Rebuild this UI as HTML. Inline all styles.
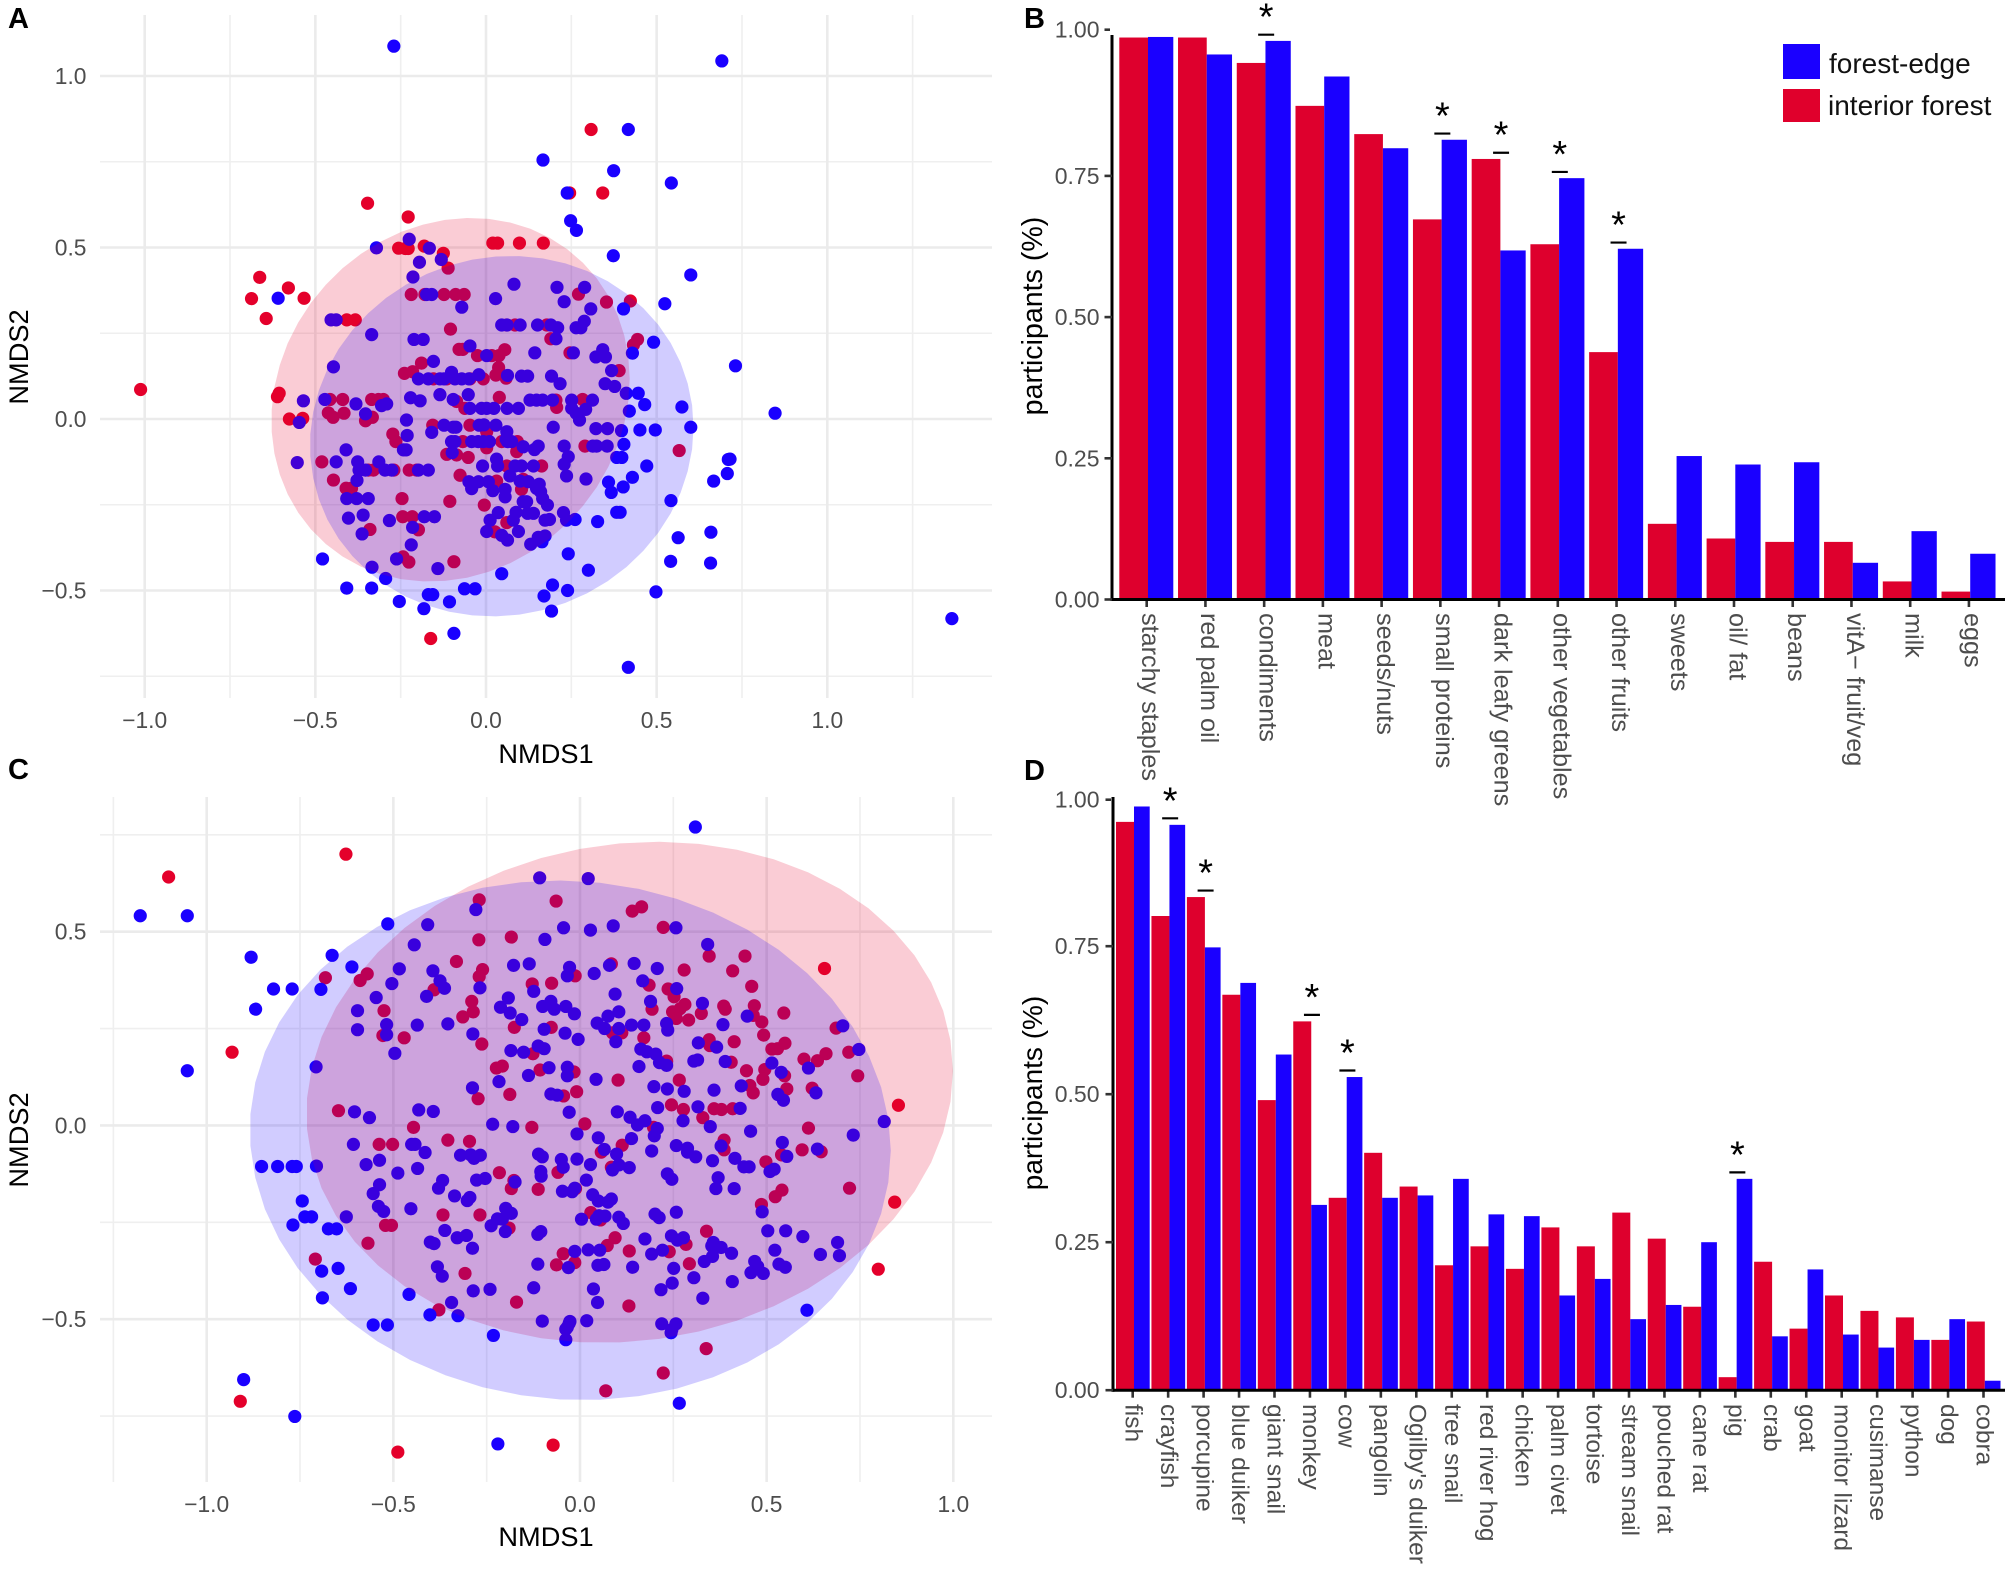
<!DOCTYPE html>
<html lang="en">
<head>
<meta charset="utf-8">
<title>Forest-edge vs interior forest diet panels</title>
<style>
html,body{margin:0;padding:0;background:#fff;}
svg{display:block;font-family:"Liberation Sans",Arial,sans-serif;}
</style>
</head>
<body>
<svg id="figure" xmlns="http://www.w3.org/2000/svg" width="2011" height="1570" viewBox="0 0 2011 1570">
  <rect x="0" y="0" width="2011" height="1570" fill="#ffffff"/>
  <g id="panelA"></g>
  <g id="panelC"></g>
  <g id="panelB"></g>
  <g id="panelD"></g>

  <text x="8" y="28" font-size="29" font-weight="bold" fill="#000">A</text>
  <text x="1024" y="28" font-size="29" font-weight="bold" fill="#000">B</text>
  <text x="8" y="779" font-size="29" font-weight="bold" fill="#000">C</text>
  <text x="1024" y="780" font-size="29" font-weight="bold" fill="#000">D</text>

  <text x="546" y="763" font-size="27.2" text-anchor="middle" fill="#000">NMDS1</text>
  <text x="546" y="1546" font-size="27.2" text-anchor="middle" fill="#000">NMDS1</text>
  <text transform="translate(28,357) rotate(-90)" font-size="27.2" text-anchor="middle" fill="#000">NMDS2</text>
  <text transform="translate(28,1140) rotate(-90)" font-size="27.2" text-anchor="middle" fill="#000">NMDS2</text>
  <text transform="translate(1042,316) rotate(-90)" font-size="28.6" text-anchor="middle" fill="#000">participants (%)</text>
  <text transform="translate(1042,1093) rotate(-90)" font-size="28" text-anchor="middle" fill="#000">participants (%)</text>

  <g>
    <rect x="1783" y="44" width="37" height="35" fill="#1a00ff"/>
    <rect x="1783" y="89" width="37" height="33" fill="#e0002c"/>
    <text x="1829" y="73" font-size="28" fill="#111">forest-edge</text>
    <text x="1828" y="115" font-size="28" fill="#111">interior forest</text>
  </g>
</svg>

<script>
// ---------- Panel A data (NMDS1, NMDS2) ----------
const panelARed = [[-.347,.629],[-.228,.589],[-.256,.498],[-.236,.497],[-.228,.497],[-.181,.504],[-.125,.483],[-.111,.440],[.020,.513],[.034,.513],[.098,.513],[.168,.513],[-.579,.382],[-.533,.352],[-.219,.363],[-.179,.363],[-.123,.363],[-.089,.363],[-.064,.363],[.271,.364],[.353,.341],[.423,.344],[-.408,.289],[-.383,.289],[-.104,.262],[.061,.274],[.085,.274],[.178,.274],[.190,.234],[.444,.232],[.432,.216],[-.079,.203],[-.068,.203],[.055,.202],[-.025,.185],[.038,.185],[.017,.185],[.246,.193],[.037,.150],[-.189,.163],[.390,.141],[-.239,.133],[-.215,.138],[.029,.128],[.059,.119],[-.154,.117],[-.008,.117],[-.115,.117],[-.047,.117],[.039,.063],[-.086,.051],[-.062,.031],[.205,.055],[.207,.034],[.283,.057],[-.457,.057],[-.420,.057],[-.335,.057],[-.315,.057],[-.301,.057],[-.462,.018],[-.448,.005],[-.416,.017],[-.353,-.005],[-.333,.005],[-.606,.075],[-.611,.065],[-.576,.000],[-.537,.002],[-.156,-.018],[-.047,-.018],[.002,-.037],[-.273,-.044],[-.264,-.066],[-.068,-.066],[.092,-.066],[.046,-.066],[.002,-.084],[.290,-.079],[.566,-.092],[.090,-.095],[-.115,-.103],[-.086,-.105],[-.052,-.112],[-.481,-.125],[-.330,-.149],[-.345,-.149],[-.270,-.149],[-.225,-.149],[-.203,-.149],[.061,-.137],[.163,-.137],[-.076,-.164],[-.447,-.178],[.031,-.181],[.109,-.176],[.104,-.205],[-.410,-.202],[-.394,-.202],[-.246,-.232],[-.106,-.240],[-.005,-.251],[-.244,-.285],[-.216,-.285],[.061,-.302],[.026,-.329],[-.340,-.322],[-.198,-.323],[-.243,-.402],[-.226,-.417],[-.094,-.416],[-.162,-.640],[.308,.844],[.342,.659],[.245,.659],[-.663,.413],[-.687,.351],[-.644,.293],[-1.012,.086]];

const panelABlue = [[.248,.578],[.265,.550],[.373,.476],[.600,.420],[-.321,.499],[-.225,.524],[-.166,.498],[-.195,.457],[-.131,.465],[-.214,.414],[-.609,.352],[.082,.393],[.208,.384],[.289,.384],[.229,.342],[.307,.321],[.403,.321],[.524,.336],[-.174,.363],[-.159,.363],[.028,.351],[-.071,.326],[-.454,.289],[-.439,.289],[.046,.274],[.062,.274],[.100,.274],[.151,.274],[.190,.274],[.210,.266],[.288,.285],[.264,.266],[.278,.266],[-.335,.246],[-.211,.232],[-.184,.232],[.205,.234],[.491,.224],[-.047,.213],[.429,.192],[.143,.193],[.256,.193],[.342,.202],[.322,.181],[.350,.181],[.002,.185],[-.154,.168],[-.447,.152],[.368,.141],[-.101,.136],[-.021,.129],[.063,.127],[.104,.125],[.122,.125],[.192,.125],[-.198,.117],[-.169,.117],[-.135,.117],[-.123,.117],[-.091,.117],[-.071,.117],[-.050,.117],[.217,.103],[.349,.103],[.377,.095],[.411,.075],[.446,.075],[-.135,.071],[-.052,.071],[.465,.042],[.574,.035],[-.535,.053],[-.472,.057],[-.381,.044],[-.291,.044],[-.306,.039],[-.221,.062],[-.193,.053],[-.096,.057],[.129,.055],[.148,.055],[.166,.055],[.195,.055],[.251,.055],[.312,.055],[-.047,.031],[-.013,.031],[.002,.031],[.023,.031],[.062,.031],[.095,.031],[.251,.031],[.292,.028],[.264,.017],[.274,-.003],[.420,.023],[-.353,.015],[-.547,-.010],[-.233,-.003],[.197,-.024],[.322,-.028],[.356,-.028],[.397,-.034],[.451,-.032],[.496,-.032],[.600,-.024],[-.123,-.018],[-.096,-.024],[-.088,-.024],[-.020,-.018],[-.006,-.017],[.029,-.018],[.061,-.037],[-.231,-.048],[-.159,-.039],[-.091,-.066],[-.101,-.066],[-.042,-.066],[-.023,-.066],[-.008,-.066],[.010,-.066],[.063,-.066],[.075,-.066],[.059,-.059],[.109,-.081],[.142,-.089],[.153,-.079],[.229,-.079],[.313,-.079],[.324,-.079],[.355,-.079],[.404,-.074],[-.242,-.090],[-.234,-.090],[-.099,-.098],[-.410,-.090],[-.553,-.127],[-.439,-.125],[-.376,-.125],[-.314,-.125],[.031,-.117],[.241,-.110],[.383,-.112],[.398,-.112],[.471,-.137],[-.010,-.137],[.034,-.137],[.085,-.137],[.104,-.137],[.139,-.137],[.229,-.132],[-.372,-.149],[-.353,-.149],[-.296,-.149],[-.276,-.149],[-.198,-.149],[-.169,-.149],[.070,-.166],[.236,-.166],[.293,-.175],[.429,-.170],[-.378,-.179],[-.050,-.183],[-.022,-.183],[.007,-.183],[.100,-.181],[.124,-.183],[.156,-.190],[.359,-.184],[.402,-.198],[.667,-.181],[-.042,-.203],[.020,-.209],[.056,-.205],[.148,-.202],[.160,-.212],[.367,-.214],[.707,-.159],[.710,-.118],[.056,-.227],[.166,-.232],[-.408,-.232],[-.379,-.232],[-.345,-.232],[.109,-.241],[.119,-.241],[.180,-.251],[.542,-.238],[.383,-.272],[.393,-.272],[.088,-.272],[.036,-.273],[.122,-.275],[.139,-.275],[.227,-.273],[-.403,-.289],[-.360,-.280],[-.181,-.285],[-.151,-.285],[-.283,-.296],[.012,-.295],[.080,-.295],[.173,-.295],[.186,-.293],[.236,-.295],[.261,-.293],[.327,-.299],[-.215,-.316],[.095,-.328],[.002,-.328],[-.363,-.335],[.046,-.339],[.063,-.353],[.659,-.330],[.563,-.346],[.173,-.341],[.153,-.345],[.164,-.358],[.131,-.365],[-.219,-.367],[.241,-.393],[-.479,-.408],[-.262,-.408],[.541,-.415],[.658,-.420],[-.334,-.432],[-.141,-.436],[.300,-.441],[.046,-.451],[-.294,-.465],[.195,-.484],[-.408,-.493],[-.335,-.493],[-.063,-.495],[-.032,-.495],[.239,-.500],[-.169,-.512],[-.156,-.512],[.170,-.516],[.498,-.504],[-.254,-.532],[-.107,-.533],[-.182,-.553],[.192,-.560],[-.094,-.625],[-.270,1.087],[.691,1.044],[.417,.844],[.167,.755],[.374,.724],[.543,.688],[.238,.659],[.731,.155],[.847,.017],[.715,-.117],[1.365,-.582],[.417,-.724]];

// ---------- Panel C data (NMDS1, NMDS2) ----------
const panelCRed = [[-.270,.582],[-.064,.579],[-.271,.479],[-.184,.486],[-.331,.423],[-.682,.381],[-.570,.391],[-.589,.374],[-.261,.402],[-.270,.384],[-.391,.350],[-.128,.365],[-.076,.367],[-.013,.386],[.084,.417],[-.290,.320],[-.286,.293],[-.314,.280],[-.525,.296],[-.176,.253],[-.077,.253],[.087,.239],[-.471,.226],[-.528,.232],[-.263,.210],[-.126,.185],[-.224,.148],[-.208,.153],[-.107,.143],[-.016,.138],[-.009,.087],[-.188,.080],[-.044,.076],[.102,.117],[-.273,.069],[.165,.564],[.140,.553],[.223,.511],[.346,.437],[.442,.437],[.279,.401],[.409,.399],[.185,.362],[.236,.352],[.252,.332],[.460,.359],[.655,.405],[.193,.300],[.281,.312],[.268,.301],[.248,.293],[.258,.276],[.325,.289],[.385,.308],[.389,.300],[.467,.309],[.464,.284],[.487,.267],[.546,.290],[.291,.272],[.686,.251],[.171,.226],[.112,.239],[.346,.221],[.348,.206],[.413,.216],[.492,.233],[.514,.197],[.529,.198],[.549,.212],[.600,.171],[.636,.167],[.659,.185],[.720,.189],[.232,.166],[.405,.163],[.446,.141],[.495,.144],[.490,.119],[.548,.128],[.744,.128],[.266,.117],[.455,.103],[.464,.084],[.554,.094],[.622,.096],[-.647,.038],[-.446,-.005],[-.538,-.049],[-.502,-.049],[-.354,-.038],[-.296,-.041],[-.129,-.005],[.013,.004],[.057,-.069],[-.059,-.121],[-.216,-.122],[-.177,-.142],[-.184,-.163],[-.112,-.165],[-.012,-.163],[.084,-.108],[.113,-.051],[.029,-.225],[.055,-.244],[-.367,-.231],[-.268,-.231],[-.521,-.258],[-.505,-.258],[-.190,-.265],[-.568,-.304],[-.709,-.345],[-.308,-.382],[-.045,-.331],[-.063,-.360],[-.014,-.354],[.073,-.310],[.094,-.290],[-.170,-.456],[-.378,-.476],[.245,.053],[.277,.041],[.329,.020],[.359,.043],[.379,.041],[.409,.043],[.197,-.005],[.612,-.007],[.386,-.038],[.386,-.063],[.595,-.063],[.646,-.068],[.540,-.076],[.498,-.094],[.132,-.324],[.239,-.326],[.284,-.307],[.339,-.273],[.293,-.357],[.541,-.167],[.523,-.184],[.486,-.204],[.722,-.162],[.853,.052],[.843,-.198],[.799,-.371],[.131,-.466],[-1.102,.641],[-.627,.700],[-.932,.189],[-.910,-.712],[-.488,-.843],[-.072,-.825],[.338,-.576],[.223,-.639],[.069,-.685]];

const panelCBlue = [[-.108,.639],[.022,.637],[-.515,.520],[-.408,.518],[-.279,.557],[-.044,.510],[.028,.504],[.089,.515],[-.094,.480],[-.444,.466],[-.664,.439],[-.611,.409],[-.484,.404],[-.394,.399],[-.178,.413],[-.136,.417],[-.028,.408],[-.034,.386],[.038,.392],[.079,.413],[-.375,.373],[-.363,.354],[-.504,.366],[-.268,.355],[-.124,.346],[-.694,.351],[-.411,.333],[-.546,.330],[-.192,.329],[.094,.339],[-.213,.305],[-.187,.290],[-.100,.307],[-.078,.320],[-.069,.300],[-.038,.307],[-.015,.288],[-.596,.296],[-.156,.273],[.075,.282],[.104,.293],[.046,.264],[.066,.250],[-.518,.260],[-.436,.259],[-.354,.262],[-.096,.248],[-.596,.247],[-.518,.234],[-.287,.236],[-.040,.238],[-.005,.222],[.104,.250],[.096,.216],[-.185,.193],[-.151,.189],[-.112,.205],[-.096,.198],[-.496,.186],[-.707,.151],[-.083,.149],[-.034,.150],[-.034,.128],[-.138,.129],[.043,.119],[-.217,.113],[-.288,.097],[-.078,.081],[-.061,.078],[.257,.510],[.342,.467],[.145,.418],[.207,.405],[.168,.373],[.259,.353],[.189,.320],[.328,.315],[.448,.282],[.138,.259],[.171,.259],[.232,.263],[.235,.246],[.383,.260],[.704,.257],[.317,.213],[.366,.202],[.163,.197],[.179,.190],[.203,.184],[.213,.162],[.232,.155],[.158,.152],[.305,.166],[.315,.169],[.389,.165],[.514,.161],[.539,.137],[.612,.148],[.747,.196],[.198,.100],[.234,.094],[.279,.088],[.359,.091],[.432,.102],[.632,.084],[.530,.080],[.545,.065],[-.604,.035],[-.564,.020],[-.432,.040],[-.393,.036],[-.234,.003],[-.180,-.003],[-.029,.034],[.100,.035],[-.008,-.022],[-.607,-.049],[-.451,-.049],[-.442,-.049],[-.415,-.070],[.049,-.032],[.065,-.062],[.098,-.074],[-.320,-.077],[-.293,-.076],[-.284,-.085],[-.267,-.077],[-.111,-.074],[-.101,-.081],[-.573,-.101],[-.537,-.090],[-.488,-.123],[-.435,-.111],[-.706,-.105],[-.771,-.106],[-.760,-.106],[-.853,-.106],[-.810,-.106],[-.050,-.088],[-.045,-.108],[-.008,-.087],[.028,-.101],[.087,-.115],[.104,-.102],[-.105,-.119],[-.104,-.131],[.017,-.141],[-.368,-.142],[-.379,-.162],[-.277,-.141],[-.254,-.137],[-.174,-.146],[-.537,-.153],[-.554,-.176],[-.336,-.182],[-.302,-.194],[-.295,-.186],[-.047,-.170],[-.021,-.171],[-.014,-.162],[.034,-.179],[.049,-.195],[.075,-.198],[.084,-.190],[-.540,-.209],[-.526,-.222],[-.453,-.215],[-.199,-.214],[-.184,-.227],[-.221,-.241],[-.208,-.242],[.004,-.242],[.044,-.242],[.051,-.233],[.067,-.234],[.104,-.237],[-.626,-.236],[-.238,-.259],[-.200,-.274],[-.362,-.271],[-.329,-.290],[-.304,-.284],[-.401,-.301],[-.391,-.305],[-.288,-.317],[-.113,-.281],[-.105,-.274],[-.014,-.325],[.022,-.321],[.053,-.322],[-.113,-.358],[-.031,-.367],[.048,-.361],[.064,-.359],[-.382,-.365],[-.369,-.389],[-.286,-.427],[-.241,-.423],[-.124,-.419],[.036,-.422],[.047,-.457],[-.344,-.457],[-.101,-.505],[-.027,-.506],[.018,-.504],[-.034,-.521],[-.744,-.195],[-.737,-.236],[-.719,-.236],[-.674,-.267],[-.652,-.267],[-.769,-.257],[-.692,-.376],[-.648,-.369],[-.615,-.421],[-.690,-.445],[-.458,-.436],[-.402,-.489],[-.327,-.491],[-.554,-.515],[-.516,-.515],[.134,.021],[.154,.001],[.174,.012],[.207,-.008],[.199,-.027],[.208,.046],[.276,.012],[.316,.048],[.349,-.003],[.429,.044],[.457,-.015],[.542,-.044],[.554,-.080],[.636,-.061],[.732,-.025],[.815,.010],[.138,-.034],[.192,-.066],[.258,-.052],[.288,-.059],[.288,-.069],[.310,-.081],[.355,-.091],[.378,-.053],[.415,-.085],[.439,-.107],[.453,-.107],[.509,-.119],[.520,-.113],[.132,-.109],[.234,-.125],[.246,-.139],[.370,-.135],[.364,-.163],[.413,-.163],[.488,-.223],[.201,-.229],[.212,-.238],[.258,-.224],[.116,-.253],[.503,-.272],[.551,-.272],[.597,-.287],[.174,-.293],[.245,-.285],[.261,-.296],[.277,-.290],[.357,-.302],[.353,-.311],[.378,-.315],[.406,-.330],[.192,-.332],[.221,-.322],[.522,-.322],[.690,-.302],[.644,-.333],[.695,-.336],[.355,-.338],[.333,-.351],[.468,-.351],[.476,-.364],[.533,-.358],[.550,-.366],[.458,-.380],[.491,-.382],[.141,-.366],[.251,-.369],[.305,-.393],[.247,-.407],[.217,-.424],[.408,-.403],[.329,-.446],[.219,-.512],[.257,-.512],[.246,-.527],[.608,-.477],[.309,.770],[-1.178,.541],[-1.052,.541],[-.881,.434],[-.821,.352],[-.771,.352],[-.869,.300],[-1.052,.141],[-.232,-.542],[-.038,-.526],[-.029,-.511],[-.038,-.553],[.244,-.535],[.266,-.717],[-.901,-.656],[-.764,-.751],[-.220,-.822]];

// Ellipse summaries in data units: centre, half-widths and correlation-like skew
const ellipseARed = [-.104, .056, .525, .530, .115];
const ellipseABlue = [.046, -.050, .562, .5255, .05];
const ellipseCRed = [.133, .0855, .866, .6465, .085];
const ellipseCBlue = [-.026, -.0385, .8585, .6705, -.04];

// Scatter axes
const scatterXMajor = [-1, -.5, 0, .5, 1];
const scatterXMajorLabels = ['\u22121.0', '\u22120.5', '0.0', '0.5', '1.0'];
const panelAXMinor = [-.75, -.25, .25, .75, 1.25];
const panelAYMajor = [1, .5, 0, -.5];
const panelAYMajorLabels = ['1.0', '0.5', '0.0', '\u22120.5'];
const panelAYMinor = [.75, .25, -.25, -.75];
const panelCXMinor = [-1.25, -.75, -.25, .25, .75];
const panelCYMajor = [.5, 0, -.5];
const panelCYMajorLabels = ['0.5', '0.0', '\u22120.5'];
const panelCYMinor = [.75, .25, -.25, -.75];

// ---------- Panel B data ----------
const foodCategories = ['starchy staples', 'red palm oil', 'condiments', 'meat', 'seeds/nuts', 'small proteins', 'dark leafy greens', 'other vegetables', 'other fruits', 'sweets', 'oil/ fat', 'beans', 'vitA\u2212 fruit/veg', 'milk', 'eggs'];
const foodInterior = [.995, .995, .950, .874, .824, .673, .780, .629, .438, .134, .108, .102, .102, .032, .014];
const foodEdge = [.996, .965, .989, .926, .799, .814, .618, .746, .621, .254, .239, .243, .065, .121, .081];
const foodSignificant = ['condiments', 'small proteins', 'dark leafy greens', 'other vegetables', 'other fruits'];

// ---------- Panel D data ----------
const animalCategories = ['fish', 'crayfish', 'porcupine', 'blue duiker', 'giant snail', 'monkey', 'cow', 'pangolin', "Ogilby's duiker", 'tree snail', 'red river hog', 'chicken', 'palm civet', 'tortoise', 'stream snail', 'pouched rat', 'cane rat', 'pig', 'crab', 'goat', 'monitor lizard', 'cusimanse', 'python', 'dog', 'cobra'];
const animalInterior = [.960, .801, .833, .668, .490, .623, .325, .401, .344, .211, .243, .205, .275, .243, .300, .256, .141, .022, .217, .104, .160, .134, .123, .085, .116];
const animalEdge = [.986, .955, .748, .688, .567, .313, .529, .325, .329, .357, .297, .294, .160, .188, .120, .144, .250, .357, .091, .204, .094, .072, .085, .120, .016];
const animalSignificant = ['crayfish', 'porcupine', 'monkey', 'cow', 'pig'];

const barTickValues = [0, .25, .5, .75, 1];
const barTickLabels = ['0.00', '0.25', '0.50', '0.75', '1.00'];

// ---------- Rendering ----------
const NS = 'http://www.w3.org/2000/svg';
const RED = '#e4002b';
const BLUE = '#1a00ff';
const BAR_RED = '#de002d';
const TICK_TEXT = '#4d4d4d';

function make(parent, tag, attrs, text) {
  const el = document.createElementNS(NS, tag);
  for (const k in attrs) el.setAttribute(k, attrs[k]);
  if (text !== undefined) el.textContent = text;
  parent.appendChild(el);
  return el;
}

function drawScatter(parent, cfg) {
  const sx = v => cfg.x0 + cfg.kx * v;
  const sy = v => cfg.y0 - cfg.ky * v;

  cfg.xMinor.forEach(v => {
    const el = make(parent, 'line', {x1: sx(v), x2: sx(v), y1: cfg.top, y2: cfg.bottom, stroke: '#efefef', 'stroke-width': 1.6});
    
    
  });
  cfg.yMinor.forEach(v => {
    const el = make(parent, 'line', {x1: cfg.left, x2: cfg.right, y1: sy(v), y2: sy(v), stroke: '#efefef', 'stroke-width': 1.6});
    
    
  });
  cfg.xMajor.forEach((v, i) => {
    const el = make(parent, 'line', {x1: sx(v), x2: sx(v), y1: cfg.top, y2: cfg.bottom, stroke: '#ebebeb', 'stroke-width': 2.6});
    
    
    const t = make(parent, 'text', {x: sx(v), y: cfg.xLabelY, 'font-size': 22.8, 'text-anchor': 'middle', fill: TICK_TEXT}, cfg.xLabels[i]);
    
    
  });
  cfg.yMajor.forEach((v, i) => {
    const el = make(parent, 'line', {x1: cfg.left, x2: cfg.right, y1: sy(v), y2: sy(v), stroke: '#ebebeb', 'stroke-width': 2.6});
    
    
    const t = make(parent, 'text', {x: 86.5, y: sy(v) + 8, 'font-size': 22.8, 'text-anchor': 'end', fill: TICK_TEXT}, cfg.yLabels[i]);
    
    
  });

  cfg.red.forEach(p => {
    const el = make(parent, 'circle', {cx: sx(p[0]), cy: sy(p[1]), r: 6.6, fill: RED});
    
    
  });
  cfg.blue.forEach(p => {
    const el = make(parent, 'circle', {cx: sx(p[0]), cy: sy(p[1]), r: 6.6, fill: BLUE});
    
    
  });

  const outline = (e) => {
    const d = Math.acos(e[4]);
    let pts = '';
    for (let i = 0; i < 51; i++) {
      const t = i / 51 * Math.PI * 2;
      pts += sx(e[0] + e[2] * Math.cos(t)).toFixed(1) + ',' + sy(e[1] + e[3] * Math.cos(t - d)).toFixed(1) + ' ';
    }
    return pts;
  };
  const er = make(parent, 'polygon', {points: outline(cfg.ellipseRed), fill: RED, 'fill-opacity': .2});
  
  
  const eb = make(parent, 'polygon', {points: outline(cfg.ellipseBlue), fill: BLUE, 'fill-opacity': .2});
  
  
}

function drawBars(parent, cfg) {
  const tickX = i => cfg.firstTick + cfg.step * i;
  const sy = v => cfg.y0 - cfg.ky * v;
  const axisX = cfg.axisX;

  cfg.categories.forEach((name, i) => {
    const cx = tickX(i);
    const red = make(parent, 'rect', {x: cx - cfg.redBack, y: sy(cfg.interior[i]), width: cfg.redW, height: cfg.y0 - sy(cfg.interior[i]), fill: BAR_RED});
    
    
    const blue = make(parent, 'rect', {x: cx + 1.3, y: sy(cfg.edge[i]), width: cfg.blueW, height: cfg.y0 - sy(cfg.edge[i]), fill: BLUE});
    
    

    const tick = make(parent, 'line', {x1: cx, x2: cx, y1: cfg.y0, y2: cfg.y0 + 7.5, stroke: '#333', 'stroke-width': 2.6});
    
    
    const lx = cx + cfg.labelDx;
    const label = make(parent, 'text', {transform: 'translate(' + lx + ',' + cfg.labelY + ') rotate(90)', 'font-size': cfg.labelSize, fill: TICK_TEXT}, name);
    
    

    if (cfg.significant.indexOf(name) >= 0) {
      const top = Math.max(cfg.interior[i], cfg.edge[i]) + .011;
      const mx = cx + 2;
      const bar = make(parent, 'line', {x1: mx - cfg.sigHalf, x2: mx + cfg.sigHalf, y1: sy(top), y2: sy(top), stroke: '#000', 'stroke-width': 2.2});
      
      
      const star = make(parent, 'text', {x: mx, y: sy(top) - 5, 'font-size': 38, 'text-anchor': 'middle', fill: '#000'}, '*');
      
      
    }
  });

  const yAxis = make(parent, 'line', {x1: axisX, x2: axisX, y1: cfg.axisTop, y2: cfg.y0 + 1.5, stroke: '#000', 'stroke-width': 3});
  
  
  const xAxis = make(parent, 'line', {x1: axisX - 1.5, x2: 2005, y1: cfg.y0, y2: cfg.y0, stroke: '#000', 'stroke-width': 3});
  
  

  barTickValues.forEach((v, i) => {
    const y = sy(v) + (v === 1 ? cfg.topNudge : 0);
    const tick = make(parent, 'line', {x1: axisX - 7.5, x2: axisX - (v === 1 ? 2 : 0), y1: y, y2: y, stroke: '#333', 'stroke-width': 2.6});
    
    
    const t = make(parent, 'text', {x: 1099.5, y: y + 8, 'font-size': 23, 'text-anchor': 'end', fill: TICK_TEXT}, barTickLabels[i]);
    
    
  });
}

drawScatter(document.getElementById('panelA'), {
  x0: 486, kx: 341.3, y0: 419, ky: 343, left: 100, right: 992, top: 15, bottom: 698, xLabelY: 728,
  xMajor: scatterXMajor, xLabels: scatterXMajorLabels, xMinor: panelAXMinor,
  yMajor: panelAYMajor, yLabels: panelAYMajorLabels, yMinor: panelAYMinor,
  red: panelARed, blue: panelABlue, ellipseRed: ellipseARed, ellipseBlue: ellipseABlue
});

drawScatter(document.getElementById('panelC'), {
  x0: 580, kx: 373.3, y0: 1125.4, ky: 387.5, left: 100, right: 992, top: 797, bottom: 1482, xLabelY: 1512,
  xMajor: scatterXMajor, xLabels: scatterXMajorLabels, xMinor: panelCXMinor,
  yMajor: panelCYMajor, yLabels: panelCYMajorLabels, yMinor: panelCYMinor,
  red: panelCRed, blue: panelCBlue, ellipseRed: ellipseCRed, ellipseBlue: ellipseCBlue
});

drawBars(document.getElementById('panelB'), {
  categories: foodCategories, interior: foodInterior, edge: foodEdge, significant: foodSignificant,
  firstTick: 1146.7, step: 58.73, y0: 599.5, ky: 564.8, axisX: 1112, axisTop: 35, topNudge: -5,
  redBack: 27.4, redW: 28.7, blueW: 25.3, labelDx: -4.5, labelY: 613, labelSize: 25.2, sigHalf: 8
});

drawBars(document.getElementById('panelD'), {
  categories: animalCategories, interior: animalInterior, edge: animalEdge, significant: animalSignificant,
  firstTick: 1132.7, step: 35.45, y0: 1390.2, ky: 592, axisX: 1113, axisTop: 797, topNudge: 1.5,
  redBack: 16.7, redW: 18, blueW: 15.7, labelDx: -7, labelY: 1404, labelSize: 24.5, sigHalf: 8
});
</script>
</body>
</html>
